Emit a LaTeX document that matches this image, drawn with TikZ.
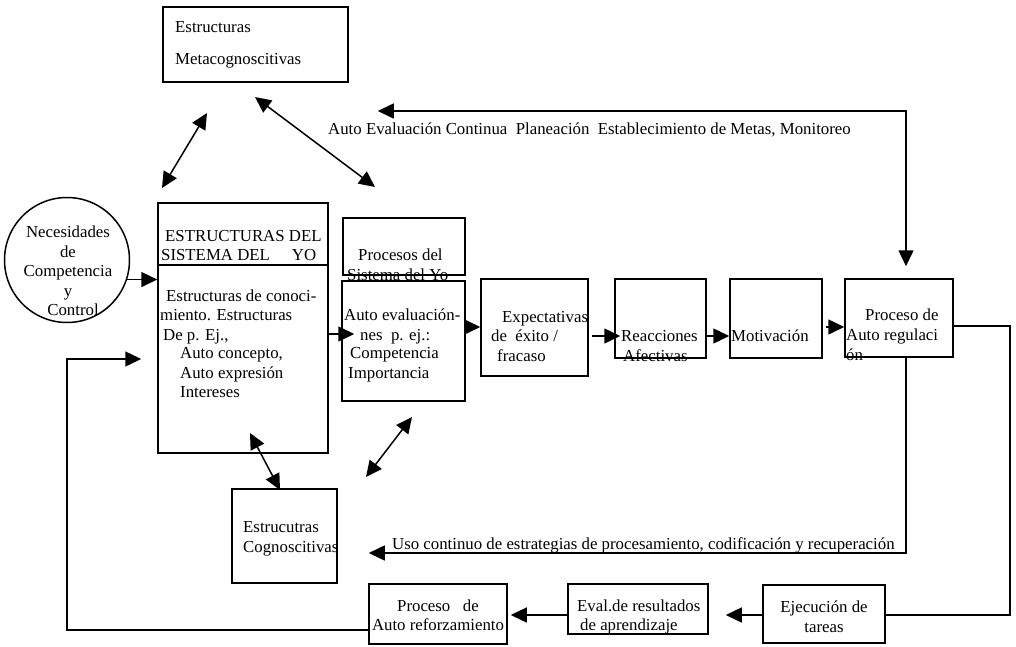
\documentclass[tikz,border=0pt]{standalone}
\usepackage{fontspec}
\setmainfont{Liberation Serif}
\usetikzlibrary{arrows.meta,calc,fit}
\newcommand\dfont{\fontsize{16.8}{19.5}\selectfont}
\begin{document}
\begin{tikzpicture}[x=1pt,y=-1pt,
  box/.style={draw, line width=1.5pt, inner sep=0pt},
  t/.style={anchor=base west, inner sep=0pt, font=\dfont},
  arr/.style={line width=1.5pt, -{Triangle[length=16pt,width=15pt]}},
  darr/.style={line width=1.5pt, {Triangle[length=16pt,width=15pt]}-{Triangle[length=16pt,width=15pt]}},
  ln/.style={line width=1.5pt}]
\fill[white] (0,0) rectangle (1016,647);
\useasboundingbox (0,0) rectangle (1016,647);

% boxes
\node[box, fit={(163,7) (348,82)}] (meta) {};
\node[draw, circle, line width=1.5pt, minimum size=125pt, inner sep=0pt] (nec) at (67,260) {};
\node[box, fit={(158,203) (328,453)}] (big) {};
\node[box, fit={(343,218) (465,275)}] (proc) {};
\node[box, fit={(342,281) (465,401)}] (aeval) {};
\node[box, fit={(481,279) (588,376)}] (expect) {};
\node[box, fit={(615,279) (706,358)}] (reac) {};
\node[box, fit={(730,279) (822,358)}] (motiv) {};
\node[box, fit={(845,279) (953,357)}] (preg) {};
\node[box, fit={(232,489) (337,583)}] (cogn) {};
\node[box, fit={(369,584) (507,644)}] (refz) {};
\node[box, fit={(568,584) (708,634)}] (evalr) {};
\node[box, fit={(763,585) (885,643)}] (ejec) {};

% divider of the big box
\coordinate (divy) at (0,265);
\draw[ln] (big.west |- divy) -- (big.east |- divy);

% texts
\node[t] (m1) at (175,33) {Estructuras};
\node[t] (m2) at (175,65) {Metacognoscitivas};
\node[t] (toplbl) at (328,135) {Auto Evaluación Continua\ \ Planeación\ \ Establecimiento de Metas, Monitoreo};
\node[align=center, inner sep=0pt, font=\dfont] (nectxt) at (68,271) {Necesidades\\de\\Competencia\\y\\\hspace*{10pt}Control};
\node[t] (b1) at (165,241) {ESTRUCTURAS DEL};
\node[t] (b2) at (161,260) {SISTEMA DEL\hspace{22pt}YO};
\node[t] (b3) at (166,301) {Estructuras de conoci-};
\node[t] (b4) at (160,320) {miento. Estructuras};
\node[t] (b5) at (163,340) {De p. Ej.,};
\node[t] (b6) at (180,358) {Auto concepto,};
\node[t] (b7) at (180,378) {Auto expresión};
\node[t] (b8) at (180,397) {Intereses};
\node[t] (p1) at (358,260) {Procesos del};
\node[t] (p2) at (347,280) {Sistema del Yo};
\node[t] (a1) at (344,320) {Auto evaluación-};
\node[t] (a2) at (360,340) {nes\ \ p. ej.:};
\node[t] (a3) at (350,358) {Competencia};
\node[t] (a4) at (348,378) {Importancia};
\node[t] (e1) at (502,322) {Expectativas};
\node[t] (e2) at (491,341) {de\ \ éxito /};
\node[t] (e3) at (497,361) {fracaso};
\node[t] (r1) at (621,341) {Reacciones};
\node[t] (r2) at (623,361) {Afectivas};
\node[t] (mo) at (731,341) {Motivación};
\node[t] (g1) at (865,320) {Proceso de};
\node[t] (g2) at (846,340) {Auto regulaci};
\node[t] (g3) at (846,360) {ón};
\node[t] (c1) at (243,532) {Estrucutras};
\node[t] (c2) at (243,552) {Cognoscitivas};
\node[t] (uso) at (392,549) {Uso continuo de estrategias de procesamiento, codificación y recuperación};
\node[anchor=base, inner sep=0pt, font=\dfont] (f1) at (438,611) {Proceso\ \ \ de};
\node[anchor=base, inner sep=0pt, font=\dfont] (f2) at (438,630) {Auto reforzamiento};
\node[t] (v1) at (577,611) {Eval.de resultados};
\node[t] (v2) at (580,630) {de aprendizaje};
\node[anchor=base, inner sep=0pt, font=\dfont] (j1) at (824,612) {Ejecución de};
\node[anchor=base, inner sep=0pt, font=\dfont] (j2) at (824,632) {tareas};

% helper coordinates
\coordinate (ya) at (0,334);
\coordinate (yb) at (0,327);
\coordinate (yc) at (0,336);
\coordinate (yd) at (0,326);
\coordinate (ye) at (0,615);
\coordinate (yf) at (0,630);
\coordinate (yg) at (0,359);
\coordinate (yh) at (0,553);
\coordinate (yi) at (0,111);
\coordinate (xr) at (1010,0);
\coordinate (xl) at (67,0);
\coordinate (xv) at (906,0);

% row connectors
\draw[arr] (nec.-18) -- (nec.-18 -| big.west);
\draw[arr] (big.east |- ya) -- ($(aeval.west |- ya)+(13,0)$);
\draw[arr] (aeval.east |- yb) -- (expect.west |- yb);
\draw[arr] ($(expect.east |- yc)+(3,0)$) -- ($(reac.west |- yc)+(6,0)$);
\draw[arr] (reac.east |- yc) -- (motiv.west |- yc);
\draw[arr] ($(motiv.east |- yb)+(3,0)$) -- (preg.west |- yb);

% right loop
\draw[ln] (preg.east |- yd) -- (xr |- yd) -- (xr |- ye) -- (ejec.east |- ye);
\draw[arr] (ejec.west |- ye) -- ($(evalr.east |- ye)+(17,0)$);
\draw[arr] (evalr.west |- ye) -- ($(refz.east |- ye)+(3,0)$);

% left loop
\draw[arr] (refz.west |- yf) -- (xl |- yf) -- (xl |- yg) -- ($(big.west |- yg)+(-16,0)$);

% lower feedback
\draw[arr] (preg.south -| xv) -- (xv |- yh) -- ($(cogn.east |- yh)+(31,0)$);

% top feedback
\draw[darr] ($(meta.east |- yi)+(29,0)$) -- (xv |- yi) -- ($(preg.north -| xv)+(0,-12)$);

% double arrows
\coordinate (d1a) at (162,188);
\coordinate (d1b) at (207,113);
\coordinate (d2a) at (255,97);
\coordinate (d2b) at (375,187);
\coordinate (d3a) at (250,433);
\coordinate (d3b) at (280,490);
\coordinate (d4a) at (412,417);
\coordinate (d4b) at (366,477);
\draw[darr] (d1a) -- (d1b);
\draw[darr] (d2a) -- (d2b);
\draw[darr] (d3a) -- (d3b);
\draw[darr] (d4a) -- (d4b);
\end{tikzpicture}
\end{document}
